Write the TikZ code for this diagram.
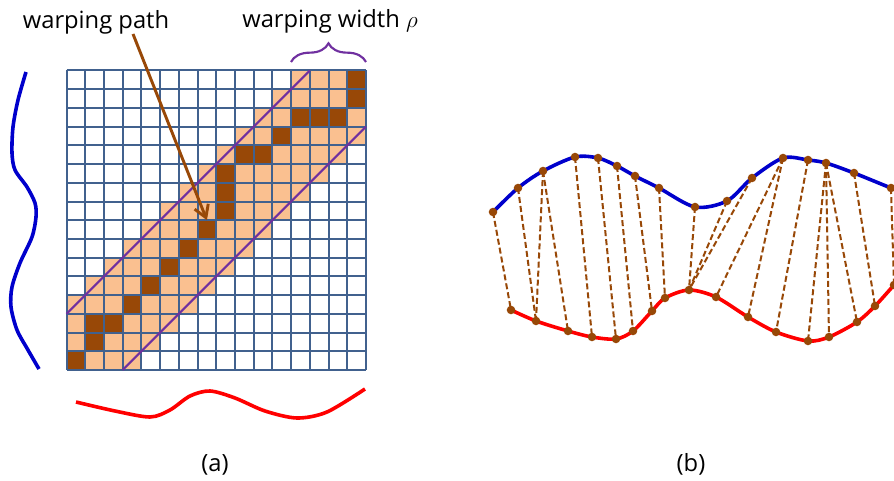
\documentclass[tikz,border=0pt]{standalone}
\usepackage{fontspec}
\setmainfont{Open Sans}
\usepackage{tikz}
\usetikzlibrary{arrows.meta,decorations.pathreplacing}
\definecolor{cmalla}{HTML}{41618E}
\definecolor{cbanda}{HTML}{FAC090}
\definecolor{cmarron}{HTML}{984807}
\definecolor{cmorado}{HTML}{7030A0}
\definecolor{cazul}{HTML}{0000CC}
\definecolor{crojo}{HTML}{FF0000}
\tikzset{
  malla/.style={draw=cmalla, line width=1.5pt},
  banda/.style={fill=cbanda},
  camino/.style={fill=cmarron},
  diag/.style={draw=cmorado, line width=1.5pt},
  llave/.style={draw=cmorado, line width=1.6pt, decorate, decoration={brace, amplitude=14pt}},
  flecha/.style={-{Straight Barb[length=9pt,width=11pt]}, line width=2.2pt, draw=cmarron},
  serieA/.style={draw=cazul, line width=2.7pt},
  serieB/.style={draw=crojo, line width=2.7pt},
  enlace/.style={draw=cmarron, line width=1.5pt, dash pattern=on 4.5pt off 2.3pt},
  punto/.style={fill=cmarron},
  etq/.style={font=\fontsize{17.8}{20}\selectfont, inner sep=0pt},
}

\begin{document}
\begin{tikzpicture}[x=0.75pt, y=-0.75pt]
  \useasboundingbox (0,0) rectangle (894,481);
  \clip (0,0) rectangle (894,481);
  \fill[white] (0,0) rectangle (894,481);
  % (a) matriz de costes
  \begin{scope}[shift={(66.5,370)}, x=14.04pt, y=14.04pt]
    \foreach \i in {0,...,15}
      \foreach \j in {0,...,15} {
        \pgfmathtruncatemacro{\difij}{abs(\i-\j)}
        \ifnum\difij<4 \fill[banda] (\i,\j) rectangle ++(1,1); \fi
      }
    \foreach \i/\j in {0/0,1/1,1/2,2/2,3/3,4/4,5/5,6/6,7/7,8/8,8/9,8/10,9/11,10/11,11/12,12/13,13/13,14/13,15/14,15/15}
      \fill[camino] (\i,\j) rectangle ++(1,1);
    \foreach \k in {0,...,16} {
      \draw[malla] (\k,0) -- (\k,16);
      \draw[malla] (0,\k) -- (16,\k);
    }
    \coordinate (d1a) at (0,3); \coordinate (d1b) at (13,16);
    \coordinate (d2a) at (3,0); \coordinate (d2b) at (16,13);
    \draw[diag] (d1a) -- (d1b);
    \draw[diag] (d2a) -- (d2b);
    \coordinate (celda) at (7.5,8);
  \end{scope}
  \node[etq, anchor=base] (tcamino) at (96,29) {warping path};
  \coordinate (cola) at (133,34);
  \draw[flecha] (cola) -- (celda);
  \coordinate (llizq) at (291,62); \coordinate (llder) at (366,62);
  \draw[llave] (llizq) -- (llder);
  \node[etq, anchor=base] (tancho) at (330,28) {warping width $\rho$};
  \draw[serieA] plot[smooth] coordinates {(26,72) (18,100) (13,127) (12,153) (15,170) (27,187) (35,203) (36,217) (32,237) (20,263) (12,287) (11,307) (17,330) (28,350) (39,369)};
  \draw[serieB] plot[smooth] coordinates {(76,402) (115,411) (150,417) (170,410) (190,396) (210,391) (235,398) (265,411) (297,418) (327,412) (365,389)};
  \node[etq, anchor=base] (lbla) at (215,472) {(a)};
  % (b) alineamiento
  \foreach \n/\x/\y in {1/493/212, 2/518/188, 3/543/171, 4/575/157, 5/598/158, 6/617/166, 7/635/176, 8/659/188,
                        9/695/207, 10/727/201, 11/752/178, 12/783/158, 13/808/160, 14/826/163, 15/854/173, 16/891/188}
    \coordinate (b\n) at (\x,\y);
  \foreach \n/\x/\y in {1/511/310, 2/536/321, 3/568/331, 4/592/337, 5/616/339, 6/633/331, 7/652/311, 8/665/298, 9/689/290,
                        10/716/297, 11/748/317, 12/776/332, 13/808/341, 14/829/337, 15/857/322, 16/875/306, 17/894/285}
    \coordinate (r\n) at (\x,\y);
  \draw[serieA] plot[smooth] coordinates {(493,212) (518,188) (543,171) (575,157) (598,158) (617,166) (635,176) (659,188) (695,207) (727,201) (752,178) (783,158) (808,160) (826,163) (854,173) (891,188) (905,193)};
  \draw[serieB] plot[smooth] coordinates {(511,310) (536,321) (568,331) (592,337) (616,339) (633,331) (652,311) (665,298) (689,290) (716,297) (748,317) (776,332) (808,341) (829,337) (857,322) (875,306) (894,285) (905,272)};
  \foreach \p/\q in {1/1,2/2,3/2,3/3,4/4,5/5,6/6,7/7,8/8,9/9,10/9,11/9,12/10,12/11,13/12,14/13,14/14,14/15,15/16,16/17}
    \draw[enlace] (b\p) -- (r\q);
  \foreach \n in {1,...,16} \fill[punto] (b\n) circle (3.2pt);
  \foreach \n in {1,...,17} \fill[punto] (r\n) circle (3.2pt);
  \node[etq, anchor=base] (lblb) at (691,472) {(b)};
\end{tikzpicture}
\end{document}
